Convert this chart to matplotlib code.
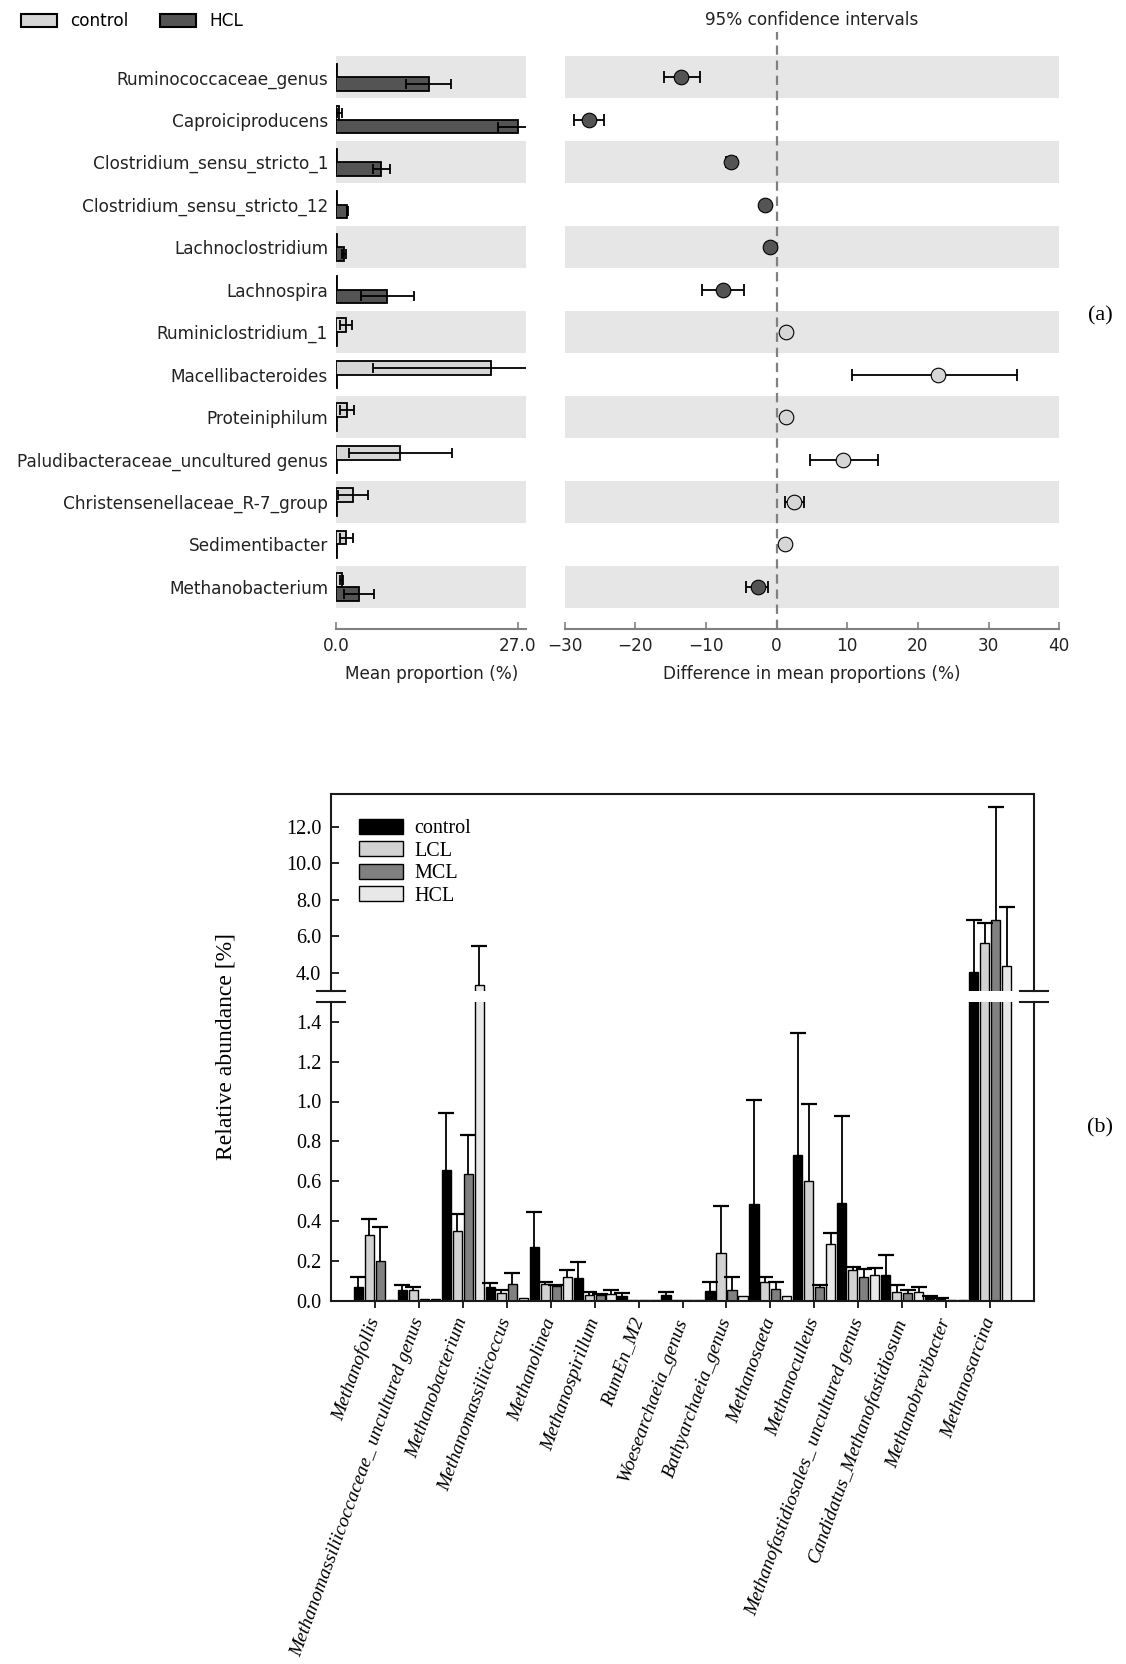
import matplotlib
matplotlib.use("Agg")
import matplotlib.pyplot as plt
from matplotlib.patches import Patch
import numpy as np

# ---------------- Panel (a) data ----------------
genera_a = ["Ruminococcaceae_genus", "Caproiciproducens", "Clostridium_sensu_stricto_1",
            "Clostridium_sensu_stricto_12", "Lachnoclostridium", "Lachnospira",
            "Ruminiclostridium_1", "Macellibacteroides", "Proteiniphilum",
            "Paludibacteraceae_uncultured genus", "Christensenellaceae_R-7_group",
            "Sedimentibacter", "Methanobacterium"]
ctrl_mean = [0.05, 0.45, 0.05, 0.03, 0.03, 0.05, 1.4, 23.0, 1.6, 9.5, 2.5, 1.5, 0.8]
ctrl_sd = [0.0, 0.4, 0.0, 0.0, 0.0, 0.0, 0.9, 17.5, 1.0, 7.7, 2.2, 1.0, 0.25]
hcl_mean = [13.7, 27.0, 6.7, 1.65, 1.15, 7.6, 0.05, 0.05, 0.15, 0.05, 0.05, 0.15, 3.35]
hcl_sd = [3.3, 2.9, 1.2, 0.1, 0.35, 3.9, 0.0, 0.0, 0.0, 0.0, 0.0, 0.0, 2.2]
diff = [-13.5, -26.6, -6.5, -1.64, -1.0, -7.55, 1.3, 22.8, 1.3, 9.35, 2.48, 1.16, -2.64]
ci_low = [-16.0, -28.7, -7.2, -1.9, -1.3, -10.5, 1.0, 10.7, 0.9, 4.7, 1.16, 0.8, -4.33]
ci_high = [-10.8, -24.4, -5.7, -1.4, -0.7, -4.6, 1.6, 34.0, 1.7, 14.3, 3.9, 1.5, -1.22]
ticks_a_left = [0.0, 27.0]
ticks_a_right = [-30, -20, -10, 0, 10, 20, 30, 40]

# ---------------- Panel (b) data ----------------
genera_b = ["Methanofollis", "Methanomassiliicoccaceae_ uncultured genus", "Methanobacterium",
            "Methanomassiliicoccus", "Methanolinea", "Methanospirillum", "RumEn_M2",
            "Woesearchaeia_genus", "Bathyarchaeia_genus", "Methanosaeta", "Methanoculleus",
            "Methanofastidiosales_ uncultured genus", "Candidatus_Methanofastidiosum",
            "Methanobrevibacter", "Methanosarcina"]
groups_b = ["control", "LCL", "MCL", "HCL"]
b_control = [0.066, 0.052, 0.656, 0.068, 0.268, 0.112, 0.022, 0.026, 0.047, 0.485, 0.731, 0.49, 0.128, 0.017, 4.04]
b_control_sd = [0.052, 0.028, 0.287, 0.020, 0.178, 0.080, 0.016, 0.017, 0.045, 0.521, 0.613, 0.436, 0.102, 0.007, 2.86]
b_lcl = [0.329, 0.055, 0.348, 0.038, 0.081, 0.029, 0.003, 0.005, 0.239, 0.092, 0.601, 0.152, 0.045, 0.010, 5.62]
b_lcl_sd = [0.080, 0.013, 0.089, 0.014, 0.013, 0.016, 0.0, 0.0, 0.237, 0.024, 0.384, 0.016, 0.031, 0.005, 1.08]
b_mcl = [0.198, 0.006, 0.636, 0.081, 0.073, 0.026, 0.002, 0.004, 0.054, 0.059, 0.066, 0.116, 0.038, 0.005, 6.87]
b_mcl_sd = [0.171, 0.0, 0.194, 0.057, 0.007, 0.009, 0.0, 0.0, 0.062, 0.035, 0.012, 0.043, 0.014, 0.0, 6.23]
b_hcl = [0.004, 0.008, 3.34, 0.012, 0.116, 0.033, 0.002, 0.004, 0.022, 0.022, 0.284, 0.128, 0.043, 0.004, 4.34]
b_hcl_sd = [0.0, 0.0, 2.11, 0.0, 0.036, 0.019, 0.0, 0.0, 0.0, 0.0, 0.054, 0.035, 0.023, 0.0, 3.26]
ticks_b_low = [0.0, 0.2, 0.4, 0.6, 0.8, 1.0, 1.2, 1.4]
ticks_b_high = [4.0, 6.0, 8.0, 10.0, 12.0]

# ---------------- figure ----------------
W, H = 1126, 1664
fig = plt.figure(figsize=(W / 100, H / 100), dpi=100)


def fx(px):
    return px / W


def fy(px):
    return 1 - px / H


SANS = "DejaVu Sans"
SERIF = "Liberation Serif"
C_CTRL = "#d6d6d6"
C_HCL = "#545454"
BAND = "#e6e6e6"
GRAY = "#808080"
FS_A = 12.2

rows = np.arange(len(genera_a))
ylim_a = (13.0, -1.07)
top_a, bot_a = 31.8, 629.4

# left: mean proportions
axL = fig.add_axes([fx(336.4), fy(bot_a), fx(526.4) - fx(336.4), (bot_a - top_a) / H])
for i in rows[::2]:
    axL.axhspan(i - 0.5, i + 0.5, color=BAND, lw=0, zorder=0)
cm, cs = np.array(ctrl_mean), np.array(ctrl_sd)
hm, hs = np.array(hcl_mean), np.array(hcl_sd)
axL.barh(rows - 0.16, cm, height=0.32, color=C_CTRL, edgecolor="black", lw=1.3, zorder=2)
axL.barh(rows + 0.16, hm, height=0.32, color=C_HCL, edgecolor="black", lw=1.3, zorder=2)
m = cs > 0
axL.errorbar(cm[m], (rows - 0.16)[m], xerr=cs[m], fmt="none", ecolor="black",
             elinewidth=1.3, capsize=3.8, capthick=1.3, zorder=3)
m = hs > 0
axL.errorbar(hm[m], (rows + 0.16)[m], xerr=hs[m], fmt="none", ecolor="black",
             elinewidth=1.3, capsize=3.8, capthick=1.3, zorder=3)
axL.set_xlim(0, 28.26)
axL.set_ylim(*ylim_a)
axL.set_yticks(rows)
axL.set_yticklabels(genera_a, fontsize=FS_A, family=SANS, color="#222222")
axL.tick_params(axis="y", length=0, pad=6)
axL.set_xticks(ticks_a_left)
axL.set_xticklabels([f"{t:.1f}" for t in ticks_a_left], fontsize=FS_A, family=SANS, color="#222222")
axL.tick_params(axis="x", direction="in", length=5, width=1.2, color=GRAY, pad=5.5)
for s in ("left", "right", "top"):
    axL.spines[s].set_visible(False)
axL.spines["bottom"].set_color(GRAY)
axL.spines["bottom"].set_linewidth(1.5)
axL.set_xlabel("Mean proportion (%)", fontsize=FS_A, family=SANS, color="#222222", labelpad=7)

# right: difference with CI
axR = fig.add_axes([fx(564.6), fy(bot_a), fx(1059.2) - fx(564.6), (bot_a - top_a) / H])
for i in rows[::2]:
    axR.axhspan(i - 0.5, i + 0.5, color=BAND, lw=0, zorder=0)
d = np.array(diff)
lo = d - np.array(ci_low)
hi = np.array(ci_high) - d
axR.axvline(0, color=GRAY, lw=1.6, ls=(0, (4.2, 2.6)), zorder=1)
axR.errorbar(d, rows, xerr=[lo, hi], fmt="none", ecolor="black", elinewidth=1.3,
             capsize=4.5, capthick=1.3, zorder=3)
neg = d < 0
axR.plot(d[neg], rows[neg], ls="none", marker="o", ms=10.5, mfc=C_HCL, mec="black", mew=0.8, zorder=4)
axR.plot(d[~neg], rows[~neg], ls="none", marker="o", ms=10.5, mfc=C_CTRL, mec="black", mew=0.8, zorder=4)
axR.set_xlim(-30, 40)
axR.set_ylim(*ylim_a)
axR.set_yticks([])
axR.set_xticks(ticks_a_right)
axR.set_xticklabels([f"{t}".replace("-", "\u2212") for t in ticks_a_right], fontsize=FS_A,
                    family=SANS, color="#222222")
axR.tick_params(axis="x", direction="in", length=5, width=1.2, color=GRAY, pad=5.5)
for s in ("left", "right", "top"):
    axR.spines[s].set_visible(False)
axR.spines["bottom"].set_color(GRAY)
axR.spines["bottom"].set_linewidth(1.5)
axR.set_xlabel("Difference in mean proportions (%)", fontsize=FS_A, family=SANS,
               color="#222222", labelpad=7)
axR.set_title("95% confidence intervals", fontsize=FS_A, family=SANS, color="#222222", pad=5)

fig.legend(handles=[Patch(fc=C_CTRL, ec="black", lw=1.5, label="control"),
                    Patch(fc=C_HCL, ec="black", lw=1.5, label="HCL")],
           loc="center left", bbox_to_anchor=(fx(20.7), fy(21)), ncol=2, frameon=False,
           prop={"family": SANS, "size": FS_A}, handlelength=2.13, handleheight=0.82,
           handletextpad=0.76, columnspacing=1.9, borderpad=0, borderaxespad=0)

fig.text(fx(1100.6), fy(316.3), "(a)", fontsize=16, family=SERIF, ha="center", va="center")

# ---------------- Panel (b) ----------------
FS_B = 14.5
left_b, right_b = 331, 1034
axU = fig.add_axes([fx(left_b), fy(990.9), fx(right_b) - fx(left_b), (990.9 - 794) / H])
axD = fig.add_axes([fx(left_b), fy(1300.5), fx(right_b) - fx(left_b), (1300.5 - 1002) / H])

idx = np.arange(len(genera_b))
series = [(b_control, b_control_sd, "#000000"), (b_lcl, b_lcl_sd, "#d2d2d2"),
          (b_mcl, b_mcl_sd, "#808080"), (b_hcl, b_hcl_sd, "#e8e8e8")]
offsets = [-0.375, -0.125, 0.125, 0.375]
handles = []
for ax in (axU, axD):
    handles = []
    for (vals, sds, col), off, lab in zip(series, offsets, groups_b):
        v = np.array(vals)
        sd = np.array(sds)
        x = idx + off
        b = ax.bar(x, v, width=0.21, color=col, edgecolor="black", lw=1.0, zorder=2, label=lab)
        handles.append(b)
        mk = sd > 0
        ax.vlines(x[mk], v[mk], (v + sd)[mk], color="black", lw=1.3, zorder=3)
        ax.plot(x[mk], (v + sd)[mk], ls="none", marker="_", ms=11, mew=1.6, color="black", zorder=3)
    ax.set_xlim(-1, 15)
    for s in ax.spines.values():
        s.set_linewidth(1.5)
        s.set_color("#1a1a1a")
    ax.tick_params(axis="y", direction="in", length=6, width=1.2, pad=7, labelsize=FS_B)

axU.set_ylim(3.0, 13.8)
axU.set_yticks(ticks_b_high)
axU.set_yticklabels([f"{t:.1f}" for t in ticks_b_high], family=SERIF, fontsize=FS_B)
axU.set_xticks([])
axU.spines["bottom"].set_visible(False)

axD.set_ylim(0, 1.5)
axD.set_yticks(ticks_b_low)
axD.set_yticklabels([f"{t:.1f}" for t in ticks_b_low], family=SERIF, fontsize=FS_B)
axD.spines["top"].set_visible(False)
axD.set_xticks(idx)
axD.set_xticklabels(genera_b, rotation=70, ha="right", va="center", rotation_mode="anchor",
                    family=SERIF, style="italic", fontsize=14)
axD.tick_params(axis="x", direction="out", length=5, width=1.2, pad=8)

# axis-break marks
for ax, yy in ((axU, 0.0), (axD, 1.0)):
    for x0 in (0.0, 1.0):
        ax.plot([x0 - 0.0206, x0 + 0.0206], [yy, yy], transform=ax.transAxes,
                clip_on=False, color="#1a1a1a", lw=1.5)

axU.legend(handles, groups_b, loc="upper left", bbox_to_anchor=(fx(358.7), fy(819)),
           bbox_transform=fig.transFigure, frameon=False,
           prop={"family": SERIF, "size": FS_B}, handlelength=2.2, handleheight=0.75,
           handletextpad=0.58, labelspacing=0.15, borderpad=0, borderaxespad=0)

fig.text(fx(226), fy(1046), "Relative abundance [%]", rotation=90, ha="center", va="center",
         family=SERIF, fontsize=17)
fig.text(fx(1099.5), fy(1128), "(b)", fontsize=16, family=SERIF, ha="center", va="center")

fig.savefig("out.png", dpi=100)
